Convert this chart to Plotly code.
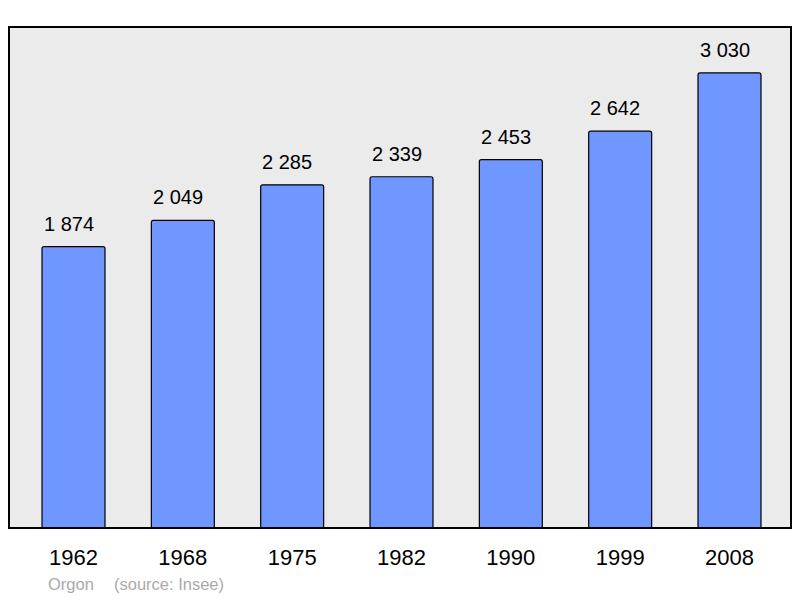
import plotly.graph_objects as go

years = ["1962", "1968", "1975", "1982", "1990", "1999", "2008"]
population = [1874, 2049, 2285, 2339, 2453, 2642, 3030]
value_labels = ["1 874", "2 049", "2 285", "2 339", "2 453", "2 642", "3 030"]

FONT = "Liberation Sans, Arial"

fig = go.Figure()
fig.add_trace(go.Bar(
    x=list(range(len(years))), y=population, width=0.576,
    marker=dict(color="#7096ff", line=dict(color="#000000", width=1.2)),
    hoverinfo="skip",
))
for i, (v, lab) in enumerate(zip(population, value_labels)):
    fig.add_annotation(x=i, y=v, text=lab, showarrow=False, yshift=23, xshift=-5,
                       yanchor="middle",
                       font=dict(family=FONT, size=20, color="#000"))

fig.add_shape(type="rect", xref="paper", yref="paper", x0=0, x1=1, y0=0, y1=1,
              line=dict(color="#000", width=2), layer="above")

fig.add_annotation(xref="paper", yref="paper", x=(46-9)/782, y=-(584-528)/501,
                   xanchor="left", yanchor="middle", text="Orgon", showarrow=False,
                   font=dict(family=FONT, size=16.5, color="#aaaaaa"))
fig.add_annotation(xref="paper", yref="paper", x=(112-9)/782, y=-(584-528)/501,
                   xanchor="left", yanchor="middle", text="(source: Insee)", showarrow=False,
                   font=dict(family=FONT, size=16.5, color="#aaaaaa"))

fig.update_layout(
    width=800, height=598,
    margin=dict(l=9, r=9, t=27, b=70),
    paper_bgcolor="white", plot_bgcolor="#ebebeb",
    barcornerradius=2,
    showlegend=False,
    xaxis=dict(range=[-0.59, 6.5625], showgrid=False, zeroline=False,
               tickmode="array", tickvals=list(range(len(years))), ticktext=years,
               ticks="outside", ticklen=10, tickcolor="rgba(0,0,0,0)",
               tickfont=dict(family=FONT, size=22, color="#000")),
    yaxis=dict(range=[0, 3336], showgrid=False, zeroline=False, showticklabels=False),
)
fig.write_html("out.html", config={"displayModeBar": False},
               post_script="document.body.style.margin='0';document.body.style.overflow='hidden';")
